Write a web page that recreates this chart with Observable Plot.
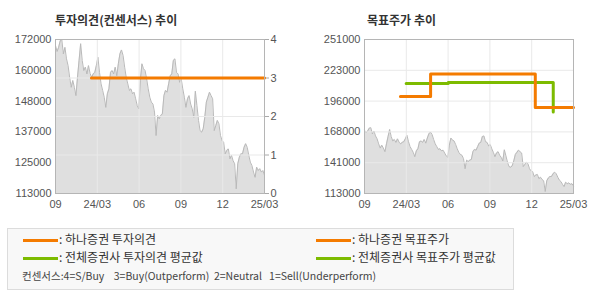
<!DOCTYPE html>
<html><head><meta charset="utf-8">
<script src="https://cdn.jsdelivr.net/npm/d3@7"></script>
<script src="https://cdn.jsdelivr.net/npm/@observablehq/plot@0.6"></script>
<style>
body{margin:0;background:#fff;width:590px;height:300px;position:relative;overflow:hidden;font-family:"Noto Sans CJK KR",sans-serif;}
.abs{position:absolute;}
.title{font-size:12px;font-weight:bold;color:#333;line-height:1;white-space:nowrap;}
.leg{font-size:12px;color:#333;line-height:1;white-space:nowrap;}
.sw{position:absolute;height:3px;width:35px;}
</style></head>
<body>
<div class="abs title" style="left:55px;top:14px;">투자의견(컨센서스) 추이</div>
<div class="abs title" style="left:367px;top:14px;">목표주가 추이</div>
<div id="left" class="abs" style="left:0;top:0;"></div>
<div id="right" class="abs" style="left:295px;top:0;"></div>
<div class="abs" style="left:7px;top:228px;width:505px;height:60px;border:1px solid #dcdcdc;background:#f8f8f8;"></div>
<div id="legend"></div>
<div class="abs leg" style="left:22px;top:271px;font-size:10.5px;color:#444;white-space:pre;">컨센서스:4=S/Buy    3=Buy(Outperform)  2=Neutral   1=Sell(Underperform)</div>
<script>
// ---- data ----
const startDate = "2023-09-25";
const endDate = "2025-03-25";
const xTickLabels = ["09", "24/03", "06", "09", "12", "25/03"];
const leftTickLabels = ["113000", "125000", "137000", "148000", "160000", "172000"];
const rightTickLabels = ["113000", "141000", "168000", "196000", "223000", "251000"];
const opinionTickLabels = ["0", "1", "2", "3", "4"];
const prices = [169700,167400,169000,171500,172000,166500,169000,164600,162000,157500,153700,156300,153700,150500,157500,164000,170400,164000,160100,161400,158800,162000,159000,157500,158800,159400,162000,165200,159400,155000,152500,149900,146000,151200,153100,159400,160100,158800,161400,158100,162700,166500,168000,165900,161400,157500,155000,152500,153100,151200,151800,149300,146700,145400,156300,162700,160800,160100,156900,153100,149900,148000,147300,144200,135200,142900,141600,142900,143500,150500,152500,151800,155000,158100,158800,164000,164600,159400,158800,155600,156900,153100,149900,146000,149300,150500,147300,145400,142200,152200,146700,141000,137100,136500,137800,142200,148000,149900,151800,150500,149300,137100,139000,141000,139700,135200,133300,132600,128200,129500,130100,126300,127600,125600,124400,114800,124400,126900,128200,128200,130700,132100,130700,127600,125000,123700,121200,119200,123100,121800,122500,121200,121800,119900];
const hanaOpinionDates = ["2023-12-28", "2025-03-25"];
const hanaOpinionValues = [3, 3];
const hanaTargetDates = ["2023-12-28", "2024-03-16", "2024-12-15", "2025-03-25"];
const hanaTargetValues = [200000, 220000, 190000, 190000];
const avgTargetDates = ["2024-01-12", "2024-05-01", "2025-01-31"];
const avgTargetValues = [211500, 212500, 186000];
const legendItems = [
  {label: ": 하나증권 투자의견", color: "#f47b00", col: 0, row: 0},
  {label: ": 전체증권사 투자의견 평균값", color: "#7dbb00", col: 0, row: 1},
  {label: ": 하나증권 목표주가", color: "#f47b00", col: 1, row: 0},
  {label: ": 전체증권사 목표주가 평균값", color: "#7dbb00", col: 1, row: 1}
];

// ---- build ----
const t0 = new Date(startDate), t1 = new Date(endDate);
const priceData = prices.map((v, i) => ({date: new Date(+t0 + i * (t1 - t0) / (prices.length - 1)), value: v}));
const xTicks = xTickLabels.map((_, k) => new Date(+t0 + k * (t1 - t0) / (xTickLabels.length - 1)));
const xFmt = d => xTickLabels[xTicks.findIndex(t => Math.abs(t - d) < 1000)];
function evenTicks(lo, hi, labels) { return labels.map((_, k) => lo + k * (hi - lo) / (labels.length - 1)); }
function labelFmt(ticks, labels) { return d => labels[ticks.findIndex(t => Math.abs(t - d) < 1e-6)]; }

const LMIN = 113000, LMAX = 172000;
const leftTicks = evenTicks(LMIN, LMAX, leftTickLabels);
const opTicks = evenTicks(LMIN, LMAX, opinionTickLabels);
const opToY = v => LMIN + v * (LMAX - LMIN) / 4;
const opinionData = hanaOpinionDates.map((d, i) => ({date: new Date(d), value: hanaOpinionValues[i]}));

const RMIN = 113000, RMAX = 251000;
const rightTicks = evenTicks(RMIN, RMAX, rightTickLabels);
const hanaTarget = hanaTargetDates.map((d, i) => ({date: new Date(d), value: hanaTargetValues[i]}));
const avgTarget = avgTargetDates.map((d, i) => ({date: new Date(d), value: avgTargetValues[i]}));

const baseStyle = {fontFamily: "'Liberation Sans', Arial, sans-serif", fontSize: "11px", color: "#555", background: "transparent", overflow: "visible"};
const gridC = "#e9e9e9";

const left = Plot.plot({
  width: 295, height: 215, marginLeft: 55, marginRight: 31, marginTop: 39, marginBottom: 22,
  style: baseStyle,
  x: {type: "utc", domain: [t0, t1]},
  y: {domain: [LMIN, LMAX]},
  marks: [
    Plot.areaY(priceData, {x: "date", y1: LMIN, y2: "value", fill: "#dfdfdf", clip: true}),
    Plot.lineY(priceData, {x: "date", y: "value", stroke: "#b9b9b9", strokeWidth: 1, clip: true}),
    Plot.gridX(xTicks.slice(1, -1), {stroke: gridC, strokeOpacity: 1}),
    Plot.gridY(opTicks.slice(1, -1), {stroke: gridC, strokeOpacity: 1}),
    Plot.axisX(xTicks, {tickFormat: xFmt, tickSize: 0, tickPadding: 7, label: null, fill: "#555"}),
    Plot.axisY(leftTicks, {anchor: "left", tickFormat: labelFmt(leftTicks, leftTickLabels), tickSize: 0, tickPadding: 4, label: null, fill: "#555"}),
    Plot.axisY(opTicks, {anchor: "right", tickFormat: labelFmt(opTicks, opinionTickLabels), tickSize: 4, tickPadding: 2, label: null, stroke: "#aaa", fill: "#555"}),
    Plot.line(opinionData, {x: "date", y: d => opToY(d.value), stroke: "#f47b00", strokeWidth: 3, curve: "step-after"}),
    Plot.frame({stroke: "#b5b5b5"})
  ]
});
document.getElementById("left").appendChild(left);

const right = Plot.plot({
  width: 295, height: 215, marginLeft: 69, marginRight: 17, marginTop: 39, marginBottom: 22,
  style: baseStyle,
  x: {type: "utc", domain: [t0, t1]},
  y: {domain: [RMIN, RMAX]},
  marks: [
    Plot.areaY(priceData, {x: "date", y1: RMIN, y2: "value", fill: "#dfdfdf"}),
    Plot.lineY(priceData, {x: "date", y: "value", stroke: "#b9b9b9", strokeWidth: 1}),
    Plot.gridX(xTicks.slice(1, -1), {stroke: gridC, strokeOpacity: 1}),
    Plot.gridY(rightTicks.slice(1, -1), {stroke: gridC, strokeOpacity: 1}),
    Plot.axisX(xTicks, {tickFormat: xFmt, tickSize: 0, tickPadding: 7, label: null, fill: "#555"}),
    Plot.axisY(rightTicks, {anchor: "left", tickFormat: labelFmt(rightTicks, rightTickLabels), tickSize: 0, tickPadding: 4, label: null, fill: "#555"}),
    Plot.line(avgTarget, {x: "date", y: "value", stroke: "#7dbb00", strokeWidth: 3, curve: "step-after"}),
    Plot.line(hanaTarget, {x: "date", y: "value", stroke: "#f47b00", strokeWidth: 3, curve: "step-after"}),
    Plot.frame({stroke: "#b5b5b5"})
  ]
});
document.getElementById("right").appendChild(right);

const lg = document.getElementById("legend");
legendItems.forEach(it => {
  const x = it.col === 0 ? 23 : 316;
  const y = it.row === 0 ? 240 : 258;
  const sw = document.createElement("div");
  sw.className = "sw"; sw.style.left = x + "px"; sw.style.top = (y - 1) + "px"; sw.style.background = it.color;
  lg.appendChild(sw);
  const t = document.createElement("div");
  t.className = "abs leg"; t.style.left = (x + 36) + "px"; t.style.top = (y - 7) + "px";
  t.textContent = it.label;
  lg.appendChild(t);
});
</script>
</body></html>
